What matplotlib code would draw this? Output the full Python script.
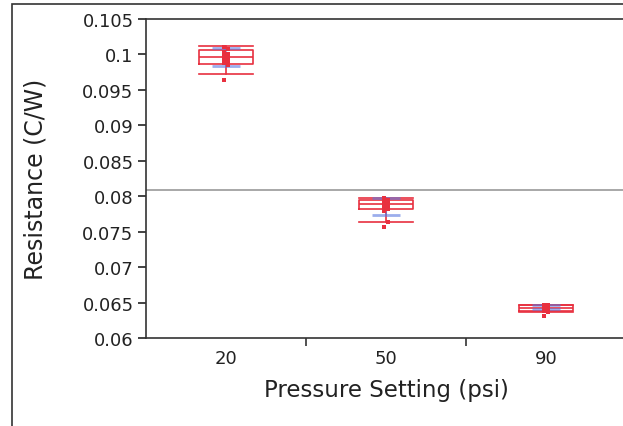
import matplotlib.pyplot as plt
from matplotlib.patches import Rectangle

# data
groups = ['20', '50', '90']
whislo = [0.0972, 0.0764, 0.0636]
q1 = [0.0986, 0.0782, 0.0638]
med = [0.0996, 0.0789, 0.0642]
q3 = [0.1006, 0.0795, 0.0646]
whishi = [0.1012, 0.0797, 0.0647]
means = [0.0996, 0.0786, 0.06435]
sds = [0.0013, 0.0012, 0.00025]
grand_mean = 0.0809
points = [
    [0.1010, 0.1007, 0.1003, 0.1000, 0.0998, 0.0996, 0.0994, 0.0991, 0.0988, 0.0985, 0.0964],
    [0.0797, 0.0795, 0.0793, 0.0791, 0.0789, 0.0787, 0.0785, 0.0782, 0.0779, 0.0764, 0.0757],
    [0.0647, 0.0646, 0.0645, 0.0644, 0.0643, 0.0642, 0.0641, 0.0640, 0.0638, 0.0636, 0.0631],
]

red = '#e8303f'
blue = '#5a78e0'

fig = plt.figure(figsize=(6.23, 4.27), dpi=100)
ax = fig.add_axes([146 / 623, 88 / 427, 480 / 623, 319 / 427])

# outer frame
fig.patches.append(Rectangle((12 / 623, -0.1), 1.0, 1.1 - 5 / 427, transform=fig.transFigure,
                             fill=False, edgecolor='#333333', linewidth=1.2))

stats = []
for i in range(len(groups)):
    stats.append(dict(med=med[i], q1=q1[i], q3=q3[i], whislo=whislo[i], whishi=whishi[i],
                      fliers=[]))
ax.bxp(stats, positions=range(len(groups)), widths=0.3375, showcaps=True,
       boxprops=dict(color=red, linewidth=1.2),
       medianprops=dict(color=red, linewidth=1.2),
       whiskerprops=dict(color=red, linewidth=1.2),
       capprops=dict(color=red, linewidth=1.2),
       capwidths=0.3375, manage_ticks=False)

ax.axhline(grand_mean, color='#999999', linewidth=1.2, zorder=1)

ax.errorbar(range(len(groups)), means, yerr=sds, fmt='none', ecolor=blue, alpha=0.6,
            elinewidth=1.5, capsize=10, capthick=2, zorder=3)

for i, vals in enumerate(points):
    xs = [i + (0.01 if k % 2 else -0.01) for k in range(len(vals))]
    ax.scatter(xs, vals, s=7, color=red, marker='s', zorder=4, linewidths=0)

ax.set_xlim(-0.5, 2.5)
ax.set_ylim(0.06, 0.105)
ax.set_yticks([0.06, 0.065, 0.07, 0.075, 0.08, 0.085, 0.09, 0.095, 0.1, 0.105])
ax.set_yticklabels(['0.06', '0.065', '0.07', '0.075', '0.08', '0.085', '0.09', '0.095', '0.1', '0.105'])
ax.set_xticks([0, 1, 2])
ax.set_xticklabels(groups)
ax.set_xticks([0.5, 1.5], minor=True)
ax.tick_params(axis='x', which='major', length=0, pad=8, labelsize=13, colors='#222222')
ax.tick_params(axis='x', which='minor', length=6, width=1.2, direction='out', color='#333333')
ax.tick_params(axis='y', length=6, width=1.2, labelsize=13, pad=3, colors='#222222')
for s in ax.spines.values():
    s.set_color('#333333')
    s.set_linewidth(1.2)

ax.set_xlabel('Pressure Setting (psi)', fontsize=16.5, color='#222222', labelpad=8)
ax.set_ylabel('Resistance (C/W)', fontsize=17, color='#222222')
ax.yaxis.set_label_coords(-0.206, 0.5)

fig.savefig('out.png', dpi=100)
